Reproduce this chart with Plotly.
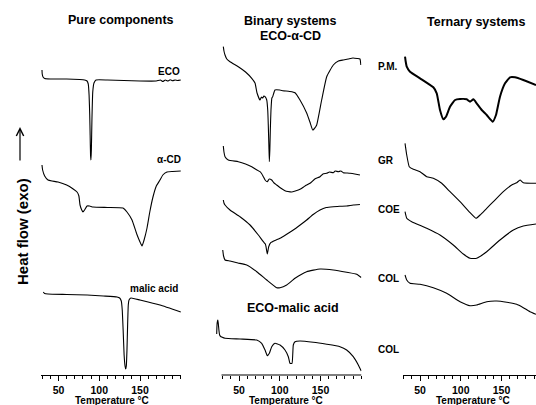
import plotly.graph_objects as go

# ---------------- data (temperature in °C, endothermic signal in arbitrary units, offset per curve;
# larger value = further down = more endothermic) ----------------
eco_T = [29.7, 30.0, 31.0, 33, 40, 60, 76, 82, 85, 86.5, 87.5, 88.3, 88.8, 89.3, 89.8, 90.3, 91.0, 92.0, 93.5,
         96, 110, 130, 150, 170, 175, 178, 181, 184, 187, 190, 193, 196, 200]
eco_S = [70, 74, 77, 78.5, 79, 79, 79.5, 80, 81, 84, 95, 115, 135, 155, 160, 150, 120, 92, 83,
         80, 80, 80.5, 81, 81, 80, 81.5, 80, 81, 79.8, 80.8, 80, 80.5, 80]

acd_T = [29.7, 30.5, 33, 37.1, 42, 49.4, 60, 68, 72.7, 75, 76.4, 78.5, 80, 82, 85, 88, 92.3, 110, 129.1, 134,
         140.2, 146, 150, 152.4, 155, 158.6, 162, 165.9, 170, 174.5, 178, 183.1, 190, 200]
acd_S = [165, 170, 176, 180, 181, 182, 185, 189, 192, 196, 205, 210, 212, 210, 206, 206, 207, 207.5, 208, 212,
         220, 234, 242, 246, 240, 228, 212, 197, 186, 180, 175, 172, 171.5, 171]

mal_T = [31.3, 33, 37.1, 60, 85, 105, 121.8, 125, 127, 128.2, 129.3, 130.5, 131.6, 132.4, 133.2, 134.0, 134.8,
         135.6, 136.5, 138.9, 149.9, 174.5, 200]
mal_S = [292, 293.5, 294, 294.5, 295, 296, 297, 298, 301, 310, 330, 355, 366, 369, 366, 350, 325,
         305, 300, 298, 300, 305, 312]

ecd_T = [30.7, 31.5, 32.8, 35, 38.9, 49.1, 58, 65.6, 69.6, 72.1, 75.7, 77.5, 79.1, 80.5, 81.9, 84, 85.2, 85.9,
         86.6, 87.2, 87.8, 88.4, 89.2, 90.3, 91.3, 94.1, 100, 104, 112, 118.7, 124.8, 133, 137, 140.4, 142, 145.3,
         151.4, 157.6, 165.7, 172, 177.9, 184, 189.8, 195, 198.4, 199.5]
ecd_S = [46.7, 51, 55, 59, 61.7, 66.7, 72, 78.3, 83, 93, 100, 97, 98, 96, 96.7, 100, 110, 125,
         145, 161.7, 150, 130, 110, 98, 96.7, 90, 90, 90.7, 91.5, 92.7, 100, 113, 122, 130, 129, 125,
         100, 76.7, 65, 61, 60, 59, 58, 58.5, 59, 65]

gr2_T = [30.7, 31.5, 32.8, 36.8, 49.1, 58, 65.6, 70, 75.7, 78, 79.8, 82, 84.7, 87, 90.1, 93, 96.2, 101, 106.4,
         110, 114.6, 119, 124.8, 131, 137.1, 143, 149.4, 153, 157.6, 161, 165.7, 168, 171.8, 175, 177.9, 182,
         186.2, 192, 198.4]
gr2_S = [146, 152, 156.7, 160, 161.7, 164, 166.7, 169, 171.7, 174, 176.7, 180, 181.7, 179, 180, 183, 185, 188,
         190.7, 191.5, 192, 191, 189.3, 186, 183.3, 179, 176.7, 174, 173.3, 172, 172.7, 171, 171.7, 171, 172.7,
         173, 173.3, 174, 175]

coe2_T = [30.7, 31.5, 32.8, 38.9, 51.2, 63.5, 73.7, 79.8, 82.3, 83.1, 84.7, 86.4, 88.9, 94, 100.3, 108, 116.6,
          125, 133, 141, 149.4, 157, 165.7, 174, 182.1, 190, 198.4]
coe2_S = [200, 203, 205, 210, 216.7, 225, 235, 241.7, 244, 246.7, 254, 246.7, 242.7, 240.5, 238.3, 234.5, 230,
          225, 220, 214.5, 210, 207.5, 206.7, 206.3, 206, 205, 204.5]

col2_T = [30, 31, 32.8, 38.9, 48.7, 59.4, 71.7, 84, 96.2, 100.3, 108.5, 118.7, 133, 149.4, 165.7, 182.1, 194.4, 200]
col2_S = [250, 256, 260, 261, 263, 265, 271.7, 280, 287.7, 287.7, 285, 278.3, 271.7, 269, 270, 272.3, 274.3, 277.5]

em_T = [22.6, 22.9, 23.3, 24.0, 24.6, 25.3, 26.2, 27.5, 28.7, 32.8, 51.2, 71.7, 77.8, 81.9, 84.7, 87.2, 90.1,
        94.1, 100.3, 106.4, 110.5, 112.5, 115, 116.6, 118.7, 124.8, 141.1, 157.6, 173.9, 182.1, 190.2, 196.4, 200]
em_S = [334, 326, 322, 320, 324, 330, 335, 336.5, 337, 338.3, 339, 340, 343.3, 350, 355.7, 353.3, 346.7,
        343.3, 345, 350, 356.7, 363.3, 363.3, 345, 341.7, 341, 342.3, 344.3, 346.7, 350, 356.7, 365, 371]

pm_T = [31.6, 32.3, 33.7, 37.7, 50, 66.3, 70.5, 74.5, 78.6, 81.9, 86.8, 93, 99.1, 107.3, 111.4, 115.5, 119.5,
        125.7, 131.8, 139.2, 143.2, 148.1, 154.3, 160.4, 166.6, 176.7, 192.3]
pm_S = [56.7, 61, 66.7, 71.7, 78.3, 87.3, 93.3, 110, 119.3, 116.7, 106.7, 100, 99, 99.3, 101.7, 99.3, 103.3,
        110, 115, 121.7, 115, 96.7, 83.3, 77.3, 77.3, 80, 85]

gr3_T = [31.6, 33.7, 36.8, 41.8, 50, 58.2, 66.3, 76.6, 86.8, 99.1, 111.4, 118.7, 123.7, 131.8, 140, 152.2,
         162.5, 168.6, 172.7, 176.7, 192.3]
gr3_S = [143.3, 155, 166.7, 169.3, 171.7, 176.7, 178.3, 183.3, 191.7, 201.7, 212.7, 218.3, 215, 208.3, 201.7,
         191.7, 185, 182.7, 180, 182.7, 183.3]

coe3_T = [31.6, 33.7, 39.8, 58.2, 74.5, 90.8, 103.1, 111.4, 119.5, 131.8, 148.1, 164.5, 176.7, 192.3]
coe3_S = [211.7, 218.3, 221.7, 228.3, 235, 245, 254, 258.3, 258.3, 251.7, 240, 230, 226, 224]

col3_T = [31.6, 33.7, 37.7, 50, 66.3, 82.7, 99.1, 111.4, 119.5, 131.8, 144.1, 156.4, 168.6, 176.7, 184.9, 192.3]
col3_S = [275, 280, 283.3, 284.3, 287.7, 293.3, 301.7, 305.7, 305, 301.7, 301, 302.3, 304.3, 307.7, 311.7, 314.3]

tick_vals = [50, 100, 150]
tick_text = ["50", "100", "150"]

# ---------------- figure ----------------
W, H = 536, 405
FONT = "Liberation Sans, Arial, sans-serif"
fig = go.Figure()

def add(T, S, ax, width=1.1):
    fig.add_trace(go.Scatter(x=T, y=S, mode="lines", xaxis=ax[0], yaxis=ax[1],
                             line=dict(color="black", width=width, shape="spline", smoothing=0.4),
                             showlegend=False, hoverinfo="skip"))

add(eco_T, eco_S, ("x", "y"))
add(acd_T, acd_S, ("x", "y"))
add(mal_T, mal_S, ("x", "y"))
add(ecd_T, ecd_S, ("x2", "y2"))
add(gr2_T, gr2_S, ("x2", "y2"))
add(coe2_T, coe2_S, ("x2", "y2"))
add(col2_T, col2_S, ("x2", "y2"))
add(em_T, em_S, ("x2", "y2"))
add(pm_T, pm_S, ("x3", "y3"), width=2.0)
add(gr3_T, gr3_S, ("x3", "y3"))
add(coe3_T, coe3_S, ("x3", "y3"))
add(col3_T, col3_S, ("x3", "y3"))

axis_bottom = 375
ydom = [(H - axis_bottom) / H, 1]

def xax(dom, rng, showline=True, anchor="y"):
    return dict(domain=[dom[0] / W, dom[1] / W], range=rng, anchor=anchor,
                showline=showline, linecolor="black", linewidth=1.2,
                showgrid=False, zeroline=False,
                tickmode="array", tickvals=tick_vals, ticktext=tick_text,
                ticks="outside", ticklen=5, tickwidth=1.2, tickcolor="black",
                tickfont=dict(family=FONT, size=10.5, color="black", weight="bold"),
                minor=dict(dtick=10, tick0=0, ticks="outside", ticklen=3, tickwidth=1,
                           tickcolor="black", showgrid=False))

def yax(anchor):
    return dict(domain=ydom, range=[axis_bottom, 0], visible=False, showgrid=False,
                zeroline=False, showline=False, anchor=anchor, fixedrange=True)

fig.update_layout(
    width=W, height=H, margin=dict(l=0, r=0, t=0, b=0),
    paper_bgcolor="white", plot_bgcolor="rgba(0,0,0,0)",
    xaxis=xax((41, 181), [28.5, 200.3], anchor="y"),
    xaxis2=xax((215, 361.5), [20.5, 200.3], showline=False, anchor="y2"),
    xaxis3=xax((402.5, 536), [28.5, 192.3], anchor="y3"),
    yaxis=yax("x"), yaxis2=yax("x2"), yaxis3=yax("x3"),
)

# axis line for panel 2 (starts at 28.5 °C like the others)
fig.add_shape(type="line", xref="x2", yref="y2 domain", x0=28.5, x1=200.3, y0=0, y1=0,
              line=dict(color="black", width=1.2))

def txt(s, px, py, size=10, anchor="center", bold=True):
    fig.add_annotation(text=(f"<b>{s}</b>" if bold else s), x=px / W, y=1 - py / H,
                       xref="paper", yref="paper", xanchor=anchor, yanchor="middle",
                       showarrow=False, font=dict(family=FONT, size=size, color="black"))

# titles
txt("Pure components", 121, 20, 12.5)
txt("Binary systems", 290, 21, 12.5)
txt("ECO-α-CD", 290, 36, 12.5)
txt("Ternary systems", 475.5, 22, 12.5)
txt("ECO-malic acid", 293, 308, 12.5)

# curve labels
txt("ECO", 182, 71, 10, "right")
txt("α-CD", 183, 159, 10, "right")
txt("malic acid", 180, 288, 10, "right")
txt("P.M.", 376, 67, 10, "left")
txt("GR", 376, 160, 10, "left")
txt("COE", 376, 209, 10, "left")
txt("COL", 376, 278, 10, "left")
txt("COL", 376, 349, 10, "left")

# x-axis titles
for cx in (112, 286, 473):
    txt("Temperature °C", cx, 400, 10)

# y-axis title with arrow
fig.add_annotation(text="<b>Heat flow (exo)</b>", x=22 / W, y=1 - 232 / H, xref="paper", yref="paper",
                   textangle=-90, showarrow=False, xanchor="center", yanchor="middle",
                   font=dict(family=FONT, size=15, color="black"))
fig.add_annotation(text="", x=20 / W, y=1 - 127 / H, xref="paper", yref="paper",
                   ax=0, ay=35, axref="pixel", ayref="pixel",
                   showarrow=True, arrowhead=5, arrowsize=1.2, arrowwidth=1.2, arrowcolor="black")

fig.write_html("out.html")
